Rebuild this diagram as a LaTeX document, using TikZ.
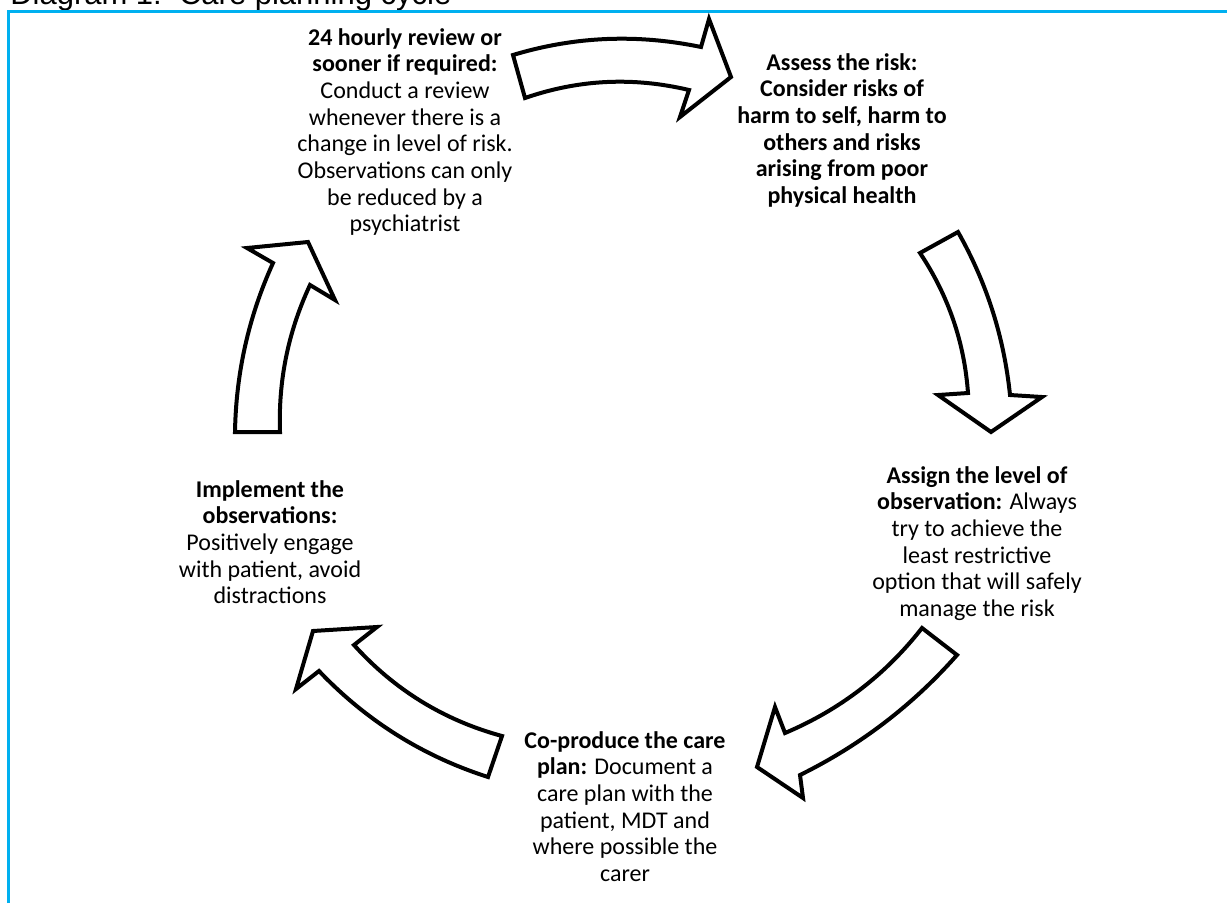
\documentclass[tikz,border=0pt]{standalone}
\usepackage{fontspec}
\setmainfont{Carlito}
\newfontfamily\titlefont{Liberation Sans}
\definecolor{frameblue}{RGB}{0,176,240}
\tikzset{
  cyclearrow/.style={draw=black, line width=3pt, fill=white, line join=miter, miter limit=10},
  stagetext/.style={align=center, inner sep=0pt, anchor=north, font=\fontsize{18}{20}\selectfont},
  framerule/.style={draw=frameblue, line width=1.9pt}
}
\begin{document}
\begin{tikzpicture}[x=0.75pt,y=-0.75pt]
\useasboundingbox (0,0) rectangle (1227,903);
% title (cut off by the page edge)
\node[anchor=base west, inner sep=0pt, font=\titlefont\fontsize{23.25}{26}\selectfont] (title) at (10,4.5) {Diagram 1:\ \ Care planning cycle};
% frame
\coordinate (fa) at (8.7,903);
\coordinate (fb) at (8.7,11.5);
\coordinate (fc) at (1227,11.5);
\draw[framerule] (fa) -- (fb) -- (fc);

% top arrow
\draw[cyclearrow] (513,55) .. controls (576,36) and (638,34) .. (701,47)
  -- (709,19) -- (731,77) -- (680,117) -- (689,90)
  .. controls (634,77) and (580,79) .. (525,98) -- cycle;
% right arrow
\draw[cyclearrow] (920,253) -- (958,232) .. controls (986.7,282.7) and (1004,337) .. (1010,395)
  -- (1042,397) -- (991,432) -- (938,395) -- (968,393)
  .. controls (964.3,342.1) and (948.3,295.5) .. (920,253) -- cycle;
% lower right arrow
\draw[cyclearrow] (922,628) -- (957,655) .. controls (912.6,705.3) and (860.2,745.3) .. (800,775)
  -- (803,798) -- (757,767) -- (775,707) -- (785,733)
  .. controls (839.8,709.9) and (885.4,674.9) .. (922,628) -- cycle;
% lower left arrow
\draw[cyclearrow] (502,736) -- (488,777) .. controls (422.7,756.1) and (366.3,720.7) .. (319,671)
  -- (296,689) -- (313,631) -- (377,627) -- (354,645)
  .. controls (394.4,689.8) and (443.8,720.2) .. (502,736) -- cycle;
% left arrow
\draw[cyclearrow] (235,432) -- (280,432) .. controls (278.2,380.6) and (288.2,331.6) .. (310,285)
  -- (335,300) -- (308,242) -- (247,248) -- (273,263)
  .. controls (248.6,316.7) and (236,373.1) .. (235,432) -- cycle;

% texts
\node[stagetext] (review) at (405,28) {\textbf{24 hourly review or}\\\textbf{sooner if required:}\\Conduct a review\\whenever there is a\\change in level of risk.\\Observations can only\\be reduced by a\\psychiatrist};
\node[stagetext] (assess) at (842,53) {\textbf{Assess the risk:}\\\textbf{Consider risks of}\\\textbf{harm to self, harm to}\\\textbf{others and risks}\\\textbf{arising from poor}\\\textbf{physical health}};
\node[stagetext] (assign) at (977,466) {\textbf{Assign the level of}\\\textbf{observation:} Always\\try to achieve the\\least restrictive\\option that will safely\\manage the risk};
\node[stagetext] (coproduce) at (625,731) {\textbf{Co-produce the care}\\\textbf{plan:} Document a\\care plan with the\\patient, MDT and\\where possible the\\carer};
\node[stagetext] (implement) at (270,480) {\textbf{Implement the}\\\textbf{observations:}\\Positively engage\\with patient, avoid\\distractions};
\end{tikzpicture}
\end{document}
